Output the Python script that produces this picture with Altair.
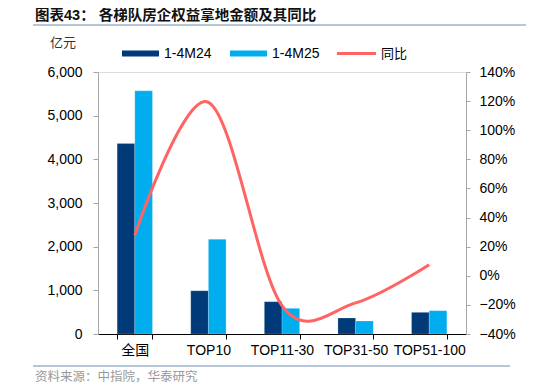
import altair as alt
import pandas as pd

# ---- data ----
categories = ["全国", "TOP10", "TOP11-30", "TOP31-50", "TOP51-100"]
series = ["1-4M24", "1-4M25"]
m24 = [4360, 990, 740, 366, 496]
m25 = [5570, 2170, 588, 298, 534]
yoy = [0.278, 1.192, -0.205, -0.186, 0.076]
left_ticks = [0, 1000, 2000, 3000, 4000, 5000, 6000]
right_ticks = [-0.4, -0.2, 0.0, 0.2, 0.4, 0.6, 0.8, 1.0, 1.2, 1.4]

title_text = "图表43：  各梯队房企权益拿地金额及其同比"
unit_text = "亿元"
source_text = "资料来源：中指院，华泰研究"
legend_labels = ["1-4M24", "1-4M25", "同比"]

C24 = "#003A78"
C25 = "#00AEEF"
CLINE = "#FF6363"
FONT = "Liberation Sans, Noto Sans CJK SC"

W, H = 368, 262

bars_df = pd.DataFrame({
    "cat": categories * 2,
    "series": [series[0]] * len(categories) + [series[1]] * len(categories),
    "value": m24 + m25,
})
line_df = pd.DataFrame({"cat": categories, "yoy": yoy})
one = pd.DataFrame({"k": [0]})

xscale = alt.Scale(domain=categories, paddingInner=0.52, paddingOuter=0.26)

bars = alt.Chart(bars_df).mark_bar(stroke="#ffffff", strokeWidth=0.4, strokeOpacity=0.5).encode(
    x=alt.X("cat:N", scale=xscale, sort=categories,
            axis=alt.Axis(title=None, labelAngle=0, tickBand="extent",
                          domainColor="#000000", tickColor="#000000", tickSize=5,
                          labelFont=FONT, labelFontSize=14, labelColor="#000000",
                          labelPadding=4, grid=False)),
    xOffset=alt.XOffset("series:N", scale=alt.Scale(domain=series, paddingInner=0, paddingOuter=0)),
    y=alt.Y("value:Q", scale=alt.Scale(domain=[0, 6000], nice=False),
            axis=alt.Axis(title=None, orient="left", values=left_ticks, format=",.0f",
                          domainColor="#A6A6A6", tickColor="#A6A6A6", tickSize=5,
                          labelFont=FONT, labelFontSize=14, labelColor="#000000",
                          labelPadding=11, grid=False)),
    color=alt.Color("series:N", scale=alt.Scale(domain=series, range=[C24, C25]), legend=None),
)

line = alt.Chart(line_df).mark_line(color=CLINE, strokeWidth=3, interpolate="cardinal").encode(
    x=alt.X("cat:N", scale=xscale, sort=categories),
    y=alt.Y("yoy:Q", scale=alt.Scale(domain=[-0.4, 1.4], nice=False),
            axis=alt.Axis(title=None, orient="right", values=right_ticks, format=".0%",
                          domainColor="#A6A6A6", tickColor="#A6A6A6", tickSize=4,
                          labelFont=FONT, labelFontSize=14, labelColor="#000000",
                          labelPadding=9, grid=False)),
)

def text_layer(txt, x, y, size=14, color="#000000", font=FONT, weight="normal", align="left"):
    return alt.Chart(pd.DataFrame({"t": [txt]})).mark_text(
        align=align, baseline="middle", fontSize=size, color=color, font=font, fontWeight=weight
    ).encode(text="t:N", x=alt.value(x), y=alt.value(y))

def hrule(x1, x2, y, color, width):
    return alt.Chart(one).mark_rule(color=color, strokeWidth=width).encode(
        x=alt.value(x1), x2=alt.value(x2), y=alt.value(y))

def legend_rect(x1, x2, color):
    return alt.Chart(one).mark_rect(color=color).encode(
        x=alt.value(x1), x2=alt.value(x2), y=alt.value(-21.5), y2=alt.value(-15.5))

layers = [
    bars,
    line,
    text_layer(title_text, -63, -56, size=14.5, weight="bold", color="#111111"),
    hrule(-65, 436, -47, "#9DB3CC", 1.5),
    text_layer(unit_text, -48, -29, size=13, color="#333333"),
    legend_rect(24, 61, C24),
    text_layer(legend_labels[0], 66, -18.5),
    legend_rect(132, 169, C25),
    text_layer(legend_labels[1], 174, -18.5),
    hrule(239, 278, -18.5, CLINE, 3),
    text_layer(legend_labels[2], 283, -18.5, size=13),
    hrule(-65, 412, 294, "#9DB3CC", 1.5),
    text_layer(source_text, -63, 304.5, size=12.5, color="#999999"),
]

chart = alt.layer(*layers).resolve_scale(y="independent").properties(
    width=W, height=H,
    padding={"left": 90, "top": 64, "right": 60, "bottom": 50},
    autosize=alt.AutoSizeParams(type="none"),
).configure_view(stroke=None).configure(background="#ffffff")

chart.save("out.html", embed_options={"renderer": "svg", "actions": False})
